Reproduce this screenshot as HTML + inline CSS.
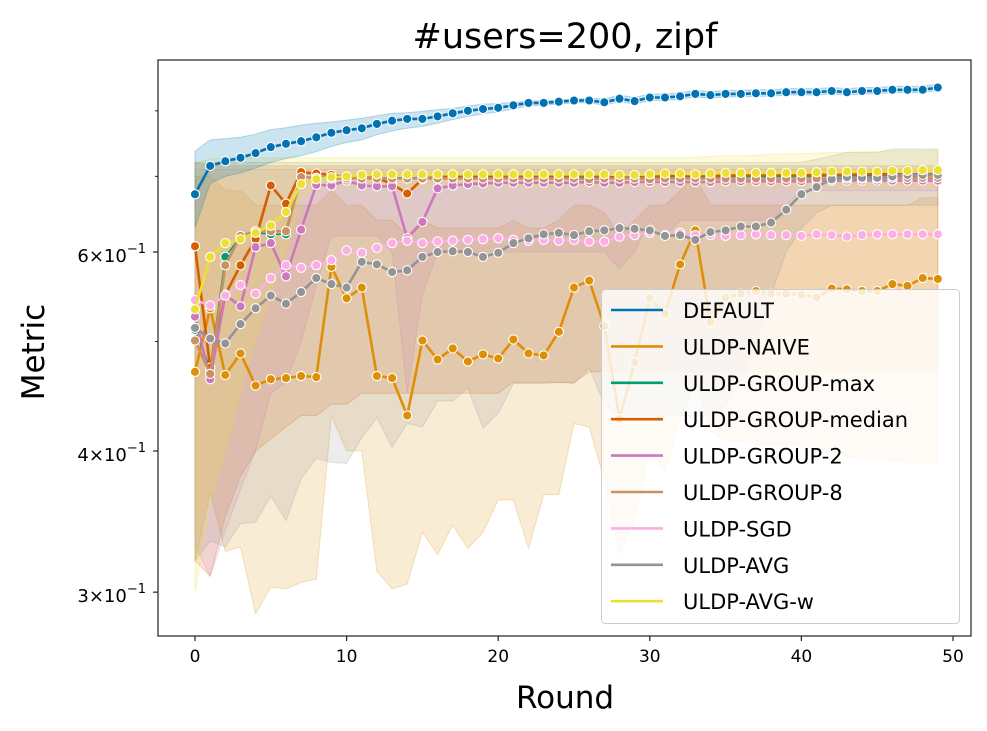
<!DOCTYPE html>
<html><head><meta charset="utf-8"><style>
html,body{margin:0;padding:0;background:#fff;}
svg{display:block;font-family:"DejaVu Sans","Liberation Sans",sans-serif;}
</style></head><body>
<svg id="chart" width="987" height="731" viewBox="0 0 987 731" xmlns="http://www.w3.org/2000/svg">
<rect width="987" height="731" fill="#fff"/>
<text x="565" y="48" font-size="35" text-anchor="middle" fill="#000">#users=200, zipf</text>
<text transform="translate(44,352) rotate(-90)" font-size="31" text-anchor="middle" fill="#000">Metric</text>
<text x="565" y="708" font-size="31" text-anchor="middle" fill="#000">Round</text>
<g id="bands"></g>
<g id="lines"></g>
<g id="axes"></g>
<g id="legend"></g>
</svg>
<script>
const rounds = Array.from({length:50},(_,i)=>i);
const xTicks = [0,10,20,30,40,50];
const yTickVals = [0.3,0.4,0.6];
const yTickLabels = ["3","4","6"];
const yMinorVals = [0.5,0.7,0.8];
const seriesNames = ["DEFAULT","ULDP-NAIVE","ULDP-GROUP-max","ULDP-GROUP-median","ULDP-GROUP-2","ULDP-GROUP-8","ULDP-SGD","ULDP-AVG","ULDP-AVG-w"];
const seriesColors = ["#0173b2","#de8f05","#029e73","#d55e00","#cc78bc","#ca9161","#fbafe4","#949494","#ece133"];

const defaultVals = [0.675,0.715,0.722,0.727,0.734,0.743,0.748,0.752,0.758,0.765,0.769,0.772,0.779,0.784,0.787,0.787,0.791,0.796,0.800,0.803,0.805,0.809,0.813,0.813,0.815,0.817,0.817,0.814,0.820,0.816,0.822,0.822,0.824,0.828,0.826,0.828,0.828,0.829,0.829,0.831,0.831,0.831,0.833,0.831,0.833,0.833,0.835,0.835,0.835,0.839];
const naiveVals = [0.470,0.535,0.467,0.488,0.457,0.463,0.464,0.466,0.465,0.582,0.546,0.558,0.466,0.464,0.430,0.501,0.482,0.493,0.480,0.487,0.483,0.502,0.488,0.486,0.510,0.558,0.566,0.516,0.427,0.479,0.546,0.529,0.585,0.627,0.520,0.547,0.551,0.554,0.551,0.551,0.550,0.547,0.557,0.556,0.554,0.554,0.562,0.560,0.569,0.568];
const maxVals = [0.512,0.473,0.594,0.619,0.624,0.622,0.622,0.698,0.699,0.699,0.698,0.698,0.697,0.698,0.698,0.698,0.699,0.698,0.699,0.699,0.698,0.699,0.698,0.699,0.699,0.698,0.699,0.699,0.698,0.699,0.699,0.699,0.700,0.699,0.699,0.700,0.700,0.700,0.700,0.700,0.700,0.700,0.701,0.700,0.701,0.701,0.701,0.701,0.701,0.702];
const medianVals = [0.607,0.474,0.550,0.584,0.616,0.687,0.662,0.706,0.704,0.702,0.699,0.698,0.698,0.689,0.676,0.696,0.699,0.700,0.700,0.700,0.700,0.700,0.700,0.700,0.700,0.701,0.701,0.700,0.701,0.701,0.700,0.701,0.701,0.701,0.701,0.701,0.702,0.702,0.702,0.702,0.702,0.702,0.702,0.702,0.703,0.703,0.703,0.703,0.703,0.703];
const g2Vals = [0.526,0.463,0.550,0.537,0.606,0.611,0.571,0.628,0.688,0.687,0.694,0.687,0.686,0.686,0.617,0.638,0.683,0.687,0.689,0.690,0.691,0.691,0.691,0.691,0.691,0.691,0.692,0.691,0.691,0.692,0.692,0.692,0.692,0.692,0.692,0.693,0.693,0.693,0.693,0.693,0.693,0.693,0.694,0.694,0.694,0.694,0.694,0.694,0.694,0.694];
const g8Vals = [0.501,0.468,0.584,0.620,0.626,0.626,0.626,0.699,0.698,0.697,0.697,0.697,0.697,0.697,0.697,0.697,0.697,0.697,0.697,0.697,0.697,0.697,0.697,0.697,0.697,0.697,0.696,0.697,0.697,0.697,0.696,0.697,0.697,0.697,0.697,0.697,0.697,0.697,0.697,0.697,0.697,0.697,0.697,0.697,0.697,0.697,0.698,0.698,0.698,0.698];
const sgdVals = [0.544,0.538,0.549,0.561,0.551,0.569,0.584,0.581,0.584,0.590,0.602,0.599,0.605,0.611,0.614,0.611,0.613,0.614,0.615,0.616,0.617,0.615,0.614,0.615,0.614,0.615,0.613,0.613,0.619,0.621,0.624,0.621,0.624,0.621,0.621,0.620,0.621,0.622,0.621,0.621,0.620,0.622,0.621,0.619,0.621,0.622,0.622,0.622,0.622,0.622];
const avgVals = [0.514,0.503,0.498,0.518,0.535,0.549,0.540,0.553,0.569,0.562,0.558,0.588,0.585,0.576,0.578,0.594,0.600,0.601,0.600,0.594,0.599,0.611,0.617,0.622,0.624,0.621,0.626,0.627,0.630,0.629,0.627,0.620,0.621,0.615,0.625,0.627,0.632,0.632,0.637,0.654,0.675,0.685,0.696,0.699,0.698,0.698,0.700,0.702,0.702,0.702];
const avgwVals = [0.534,0.594,0.611,0.616,0.624,0.633,0.651,0.689,0.696,0.699,0.700,0.702,0.703,0.703,0.703,0.703,0.703,0.703,0.703,0.703,0.703,0.703,0.703,0.703,0.703,0.703,0.703,0.703,0.702,0.702,0.703,0.704,0.704,0.703,0.704,0.705,0.705,0.705,0.705,0.705,0.705,0.706,0.707,0.707,0.707,0.707,0.708,0.708,0.709,0.709];

const defaultUpper = [0.737,0.754,0.756,0.758,0.763,0.770,0.773,0.777,0.780,0.782,0.785,0.788,0.792,0.796,0.797,0.799,0.802,0.804,0.808,0.811,0.812,0.814,0.816,0.817,0.818,0.819,0.821,0.820,0.826,0.822,0.828,0.828,0.830,0.834,0.832,0.834,0.834,0.835,0.835,0.837,0.837,0.837,0.839,0.837,0.839,0.839,0.841,0.841,0.841,0.845];
const defaultLower = [0.630,0.690,0.700,0.705,0.712,0.720,0.726,0.730,0.736,0.744,0.750,0.754,0.762,0.768,0.772,0.775,0.780,0.786,0.791,0.795,0.798,0.803,0.808,0.809,0.811,0.813,0.813,0.809,0.815,0.811,0.817,0.817,0.819,0.823,0.821,0.823,0.823,0.824,0.824,0.826,0.826,0.826,0.828,0.826,0.828,0.828,0.830,0.830,0.830,0.834];
const naiveUpper = [0.70,0.70,0.68,0.68,0.66,0.66,0.66,0.66,0.66,0.68,0.66,0.66,0.64,0.64,0.62,0.64,0.63,0.63,0.63,0.63,0.63,0.64,0.63,0.63,0.64,0.66,0.66,0.65,0.62,0.64,0.66,0.66,0.68,0.70,0.66,0.66,0.66,0.66,0.66,0.66,0.66,0.66,0.66,0.66,0.66,0.66,0.66,0.66,0.67,0.67];
const naiveLower = [0.319,0.368,0.326,0.329,0.287,0.303,0.302,0.306,0.308,0.430,0.400,0.400,0.313,0.302,0.305,0.339,0.324,0.344,0.328,0.339,0.362,0.362,0.328,0.366,0.366,0.423,0.420,0.377,0.324,0.348,0.400,0.384,0.426,0.463,0.417,0.408,0.408,0.405,0.405,0.405,0.405,0.400,0.398,0.396,0.394,0.394,0.392,0.391,0.390,0.390];
const medianUpper = [0.72,0.715,0.715,0.715,0.715,0.715,0.715,0.715,0.715,0.715,0.715,0.715,0.715,0.715,0.715,0.715,0.715,0.715,0.715,0.715,0.715,0.715,0.715,0.715,0.715,0.715,0.715,0.715,0.715,0.715,0.715,0.715,0.715,0.715,0.715,0.715,0.715,0.715,0.715,0.715,0.715,0.715,0.715,0.715,0.715,0.715,0.715,0.715,0.715,0.715];
const medianLower = [0.32,0.31,0.35,0.38,0.40,0.41,0.42,0.43,0.43,0.44,0.44,0.45,0.45,0.45,0.45,0.45,0.45,0.45,0.45,0.45,0.45,0.46,0.46,0.46,0.46,0.46,0.47,0.47,0.47,0.47,0.47,0.47,0.47,0.47,0.47,0.47,0.47,0.47,0.47,0.47,0.47,0.47,0.47,0.47,0.47,0.47,0.47,0.47,0.47,0.47];
const g2Upper = [0.71,0.71,0.71,0.71,0.71,0.71,0.71,0.71,0.71,0.71,0.71,0.71,0.71,0.71,0.71,0.71,0.71,0.71,0.71,0.71,0.71,0.71,0.71,0.71,0.71,0.71,0.71,0.71,0.71,0.71,0.71,0.71,0.71,0.71,0.71,0.71,0.71,0.71,0.71,0.71,0.71,0.71,0.71,0.71,0.71,0.71,0.71,0.71,0.71,0.71];
const g2Lower = [0.33,0.31,0.34,0.37,0.40,0.45,0.46,0.50,0.56,0.62,0.62,0.62,0.62,0.60,0.45,0.55,0.60,0.60,0.60,0.60,0.60,0.60,0.60,0.60,0.60,0.60,0.60,0.60,0.58,0.60,0.64,0.62,0.64,0.64,0.64,0.64,0.64,0.64,0.64,0.66,0.68,0.68,0.68,0.68,0.68,0.68,0.68,0.68,0.68,0.68];
const avgUpper = [0.72,0.72,0.72,0.72,0.72,0.72,0.72,0.72,0.72,0.72,0.72,0.72,0.72,0.72,0.72,0.72,0.72,0.72,0.72,0.72,0.72,0.72,0.72,0.72,0.72,0.72,0.72,0.72,0.72,0.72,0.72,0.72,0.72,0.72,0.72,0.72,0.72,0.72,0.72,0.72,0.72,0.725,0.73,0.735,0.735,0.735,0.74,0.74,0.74,0.74];
const avgLower = [0.320,0.333,0.329,0.345,0.346,0.365,0.347,0.378,0.394,0.391,0.390,0.411,0.428,0.403,0.423,0.420,0.443,0.443,0.455,0.419,0.432,0.459,0.459,0.459,0.460,0.459,0.474,0.44,0.43,0.43,0.43,0.43,0.43,0.43,0.43,0.44,0.46,0.50,0.55,0.60,0.63,0.65,0.66,0.66,0.66,0.66,0.66,0.66,0.66,0.66];
const avgwUpper = [0.72,0.725,0.727,0.727,0.727,0.727,0.727,0.727,0.727,0.727,0.727,0.727,0.727,0.727,0.727,0.727,0.727,0.727,0.727,0.727,0.727,0.727,0.727,0.727,0.727,0.727,0.727,0.727,0.727,0.727,0.727,0.727,0.727,0.728,0.729,0.730,0.730,0.731,0.732,0.733,0.733,0.734,0.735,0.735,0.736,0.736,0.737,0.737,0.737,0.738];
const avgwLower = [0.30,0.36,0.40,0.45,0.50,0.55,0.60,0.67,0.685,0.685,0.685,0.685,0.685,0.685,0.685,0.685,0.685,0.685,0.685,0.685,0.685,0.685,0.685,0.685,0.685,0.685,0.685,0.685,0.685,0.685,0.685,0.685,0.685,0.685,0.685,0.685,0.685,0.685,0.685,0.685,0.685,0.685,0.685,0.685,0.685,0.685,0.685,0.685,0.685,0.685];

const NS="http://www.w3.org/2000/svg";
const PL=158, PR=971, PT=60, PB=636;
function xs(i){return 195 + i*(953-195)/50;}
function ys(v){return 252 - (Math.log10(v)-Math.log10(0.6))*1130;}
function mk(tag,attrs,parent){const e=document.createElementNS(NS,tag);for(const k in attrs)e.setAttribute(k,attrs[k]);parent.appendChild(e);return e;}

const bandsG=document.getElementById('bands');
const bands=[[naiveUpper,naiveLower,1,"band-uldp-naive",0.17],[medianUpper,medianLower,3,"band-uldp-group-median",0.16],[g2Upper,g2Lower,4,"band-uldp-group-2",0.16],[avgUpper,avgLower,7,"band-uldp-avg",0.18],[avgwUpper,avgwLower,8,"band-uldp-avg-w",0.18],[defaultUpper,defaultLower,0,"band-default",0.2]];
bands.forEach(b=>{
  const up=b[0],lo=b[1],c=seriesColors[b[2]];
  let pts=rounds.map(i=>xs(i).toFixed(1)+","+ys(up[i]).toFixed(1));
  for(let i=rounds.length-1;i>=0;i--)pts.push(xs(i).toFixed(1)+","+ys(lo[i]).toFixed(1));
  const p=mk('polygon',{points:pts.join(' '),fill:c,'fill-opacity':b[4],stroke:c,'stroke-opacity':0.25,'stroke-width':1},bandsG);
  
  
});

const linesG=document.getElementById('lines');
const allVals=[defaultVals,naiveVals,maxVals,medianVals,g2Vals,g8Vals,sgdVals,avgVals,avgwVals];
allVals.forEach((vals,si)=>{
  const g=mk('g',{},linesG);
  
  
  const c=seriesColors[si];
  const d=rounds.map((i,k)=>(k?'L':'M')+xs(i).toFixed(1)+' '+ys(vals[i]).toFixed(1)).join(' ');
  const ln=mk('path',{d:d,fill:'none',stroke:c,'stroke-width':si==2?1.5:2.6,'stroke-linejoin':'round'},g);
  
  
  rounds.forEach(i=>{
    const m=mk('circle',{cx:xs(i).toFixed(1),cy:ys(vals[i]).toFixed(1),r:4.6,fill:c,stroke:'#fff','stroke-width':1.1},g);
    
    
  });
});

const ax=document.getElementById('axes');
const fr=mk('rect',{x:PL,y:PT,width:PR-PL,height:PB-PT,fill:'none',stroke:'#222','stroke-width':1.2},ax);


xTicks.forEach(t=>{
  const x=xs(t);
  mk('line',{x1:x,x2:x,y1:PB,y2:PB+5,stroke:'#222','stroke-width':1.2},ax);
  const tx=mk('text',{x:x,y:PB+26,'font-size':17,'text-anchor':'middle',fill:'#000'},ax);
  tx.textContent=String(t);
  
  
});
yTickVals.forEach((v,k)=>{
  const y=ys(v);
  mk('line',{x1:PL-5,x2:PL,y1:y,y2:y,stroke:'#222','stroke-width':1.2},ax);
  const tx=mk('text',{x:PL-12,y:y+10,'font-size':18,'text-anchor':'end',fill:'#000'},ax);
  
  
  const a=document.createElementNS(NS,'tspan');a.textContent=yTickLabels[k]+'\u00d710';tx.appendChild(a);
  const b=document.createElementNS(NS,'tspan');b.setAttribute('dy','-9');b.setAttribute('font-size','13');b.textContent='\u22121';tx.appendChild(b);
});
yMinorVals.forEach(v=>{const y=ys(v);mk('line',{x1:PL-3,x2:PL,y1:y,y2:y,stroke:'#222','stroke-width':1},ax);});

const lg=document.getElementById('legend');
const box=mk('rect',{x:601.5,y:289.5,width:358,height:334,rx:4,fill:'#fff','fill-opacity':0.8,stroke:'#ccc','stroke-width':1},lg);


seriesNames.forEach((n,k)=>{
  const y=310+k*36.4;
  const g=mk('g',{},lg);
  
  
  mk('line',{x1:611,x2:663,y1:y,y2:y,stroke:seriesColors[k],'stroke-width':2.6},g);
  const t=mk('text',{x:683,y:y+8,'font-size':21,fill:'#000'},g);
  t.textContent=n;
});
</script>
</body></html>
